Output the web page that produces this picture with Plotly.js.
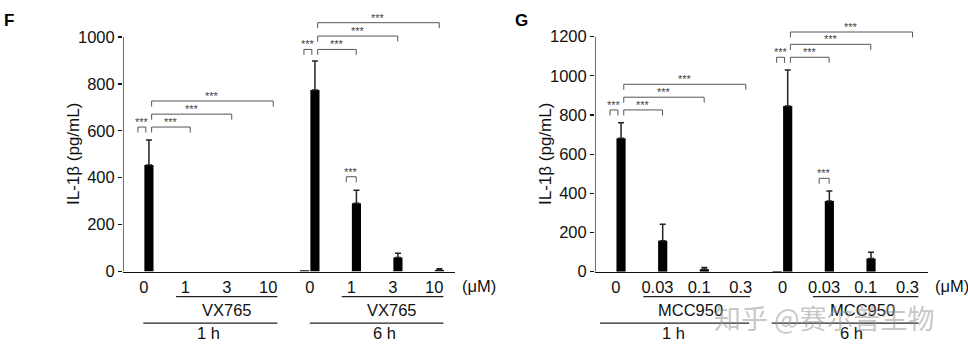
<!DOCTYPE html>
<html>
<head>
<meta charset="utf-8">
<script src="https://cdn.plot.ly/plotly-3.0.1.min.js"></script>
<style>html,body{margin:0;padding:0;background:#fff;}#chart{width:968px;height:356px;}</style>
</head>
<body>
<div id="chart"></div>
<script>
// ---------- DATA ----------
// Panel F (VX765)
const catsF = ['0', '1', '3', '10', '0', '1', '3', '10'];
const ctrlF = [0, 0, 0, 0, 5, 0, 0, 0];          // unstimulated
const lpsF  = [454, 0, 0, 0, 774, 291, 60, 6];   // stimulated
const errF  = [107, 0, 0, 0, 124, 56, 18, 6];
// Panel G (MCC950)
const catsG = ['0', '0.03', '0.1', '0.3', '0', '0.03', '0.1', '0.3'];
const ctrlG = [0, 0, 0, 0, 4, 0, 0, 0];
const lpsG  = [681, 158, 12, 0, 846, 361, 68, 0];
const errG  = [80, 84, 10, 0, 184, 51, 31, 0];
// significance brackets: [fromCategory, toCategory, level]; from==to => ctrl vs treated
const sigF = [[0, 0, 616], [0, 1, 616], [0, 2, 671], [0, 3, 727],
              [4, 4, 947], [4, 5, 947], [4, 6, 1004], [4, 7, 1061], [5, 5, 404]];
const sigG = [[0, 0, 826], [0, 1, 826], [0, 2, 891], [0, 3, 957],
              [4, 4, 1095], [4, 5, 1095], [4, 6, 1161], [4, 7, 1224], [5, 5, 477]];
const yTicksF = [0, 200, 400, 600, 800, 1000];
const yTicksG = [0, 200, 400, 600, 800, 1000, 1200];
const drugF = 'VX765', drugG = 'MCC950';
const timeLabels = ['1 h', '6 h'];
const yTitle = 'IL-1β (pg/mL)';
const unitLabel = '(μM)';

// ---------- LAYOUT HELPERS ----------
const W = 968, H = 356;
const FONT = 'Liberation Sans, Arial, Helvetica, sans-serif';
const pY = y => 1 - y / H;

const traces = [];
const shapes = [];
const annotations = [];
const layout = {
  width: W, height: H, margin: {l: 0, r: 0, t: 0, b: 0},
  paper_bgcolor: '#fff', plot_bgcolor: '#fff', showlegend: false,
  barmode: 'group', bargap: 0.5, bargroupgap: 0.12,
  font: {family: FONT, color: '#111'},
  shapes: shapes, annotations: annotations
};

function panel(p) {
  const xn = p.idx === 1 ? '' : '2';
  const xo = p.idx === 1 ? '3' : '4';
  const xa = 'x' + xn, ya = 'y' + xn;
  const pxPerUnit = (p.zeroPx - p.topTickPx) / p.topTick;
  const topPx = p.zeroPx - p.rangeMax * pxPerUnit;
  const n = p.cats.length;
  const idx = p.cats.map((c, i) => i);
  const bounds = [];
  for (let i = 0; i <= n; i++) bounds.push(i - 0.5);

  layout['xaxis' + xn] = {
    domain: [p.xL / W, p.xR / W], range: [-0.5, n - 0.5], anchor: ya,
    tickmode: 'array', tickvals: idx, ticktext: p.cats, ticks: '',
    showline: true, linecolor: '#111', linewidth: 1.2, showgrid: false, zeroline: false,
    tickfont: {family: FONT, size: 16.5, color: '#111'}, fixedrange: true
  };
  layout['xaxis' + xo] = {
    overlaying: xa, anchor: ya, range: [-0.5, n - 0.5],
    tickmode: 'array', tickvals: bounds, ticks: 'outside', ticklen: 4, tickwidth: 1.2,
    tickcolor: '#111', showticklabels: false, showline: false, showgrid: false, zeroline: false
  };
  layout['yaxis' + xn] = {
    domain: [pY(p.zeroPx), pY(topPx)], range: [0, p.rangeMax], anchor: xa,
    tickmode: 'array', tickvals: p.yTicks, ticks: 'outside', ticklen: 4, tickwidth: 1.2,
    tickcolor: '#111', showline: false, showgrid: false, zeroline: false,
    tickfont: {family: FONT, size: 16.5, color: '#111'}, fixedrange: true
  };
  // y axis line only up to the last tick
  shapes.push({type: 'line', xref: xa, yref: ya, x0: -0.5, x1: -0.5, y0: 0, y1: p.topTick,
               line: {color: '#111', width: 1.2}});

  // a zero mean draws no bar and no whisker
  const nz = arr => arr.map(v => (v > 0 ? v : null));
  traces.push({type: 'bar', x: idx, y: nz(p.ctrl), xaxis: xa, yaxis: ya,
               marker: {color: '#000', line: {width: 0}}, hoverinfo: 'skip'});
  traces.push({type: 'bar', x: idx, y: nz(p.lps), xaxis: xa, yaxis: ya,
               marker: {color: '#000', line: {width: 0}}, hoverinfo: 'skip',
               error_y: {type: 'data', symmetric: false, array: p.err,
                         arrayminus: p.err.map(() => 0), color: '#222', thickness: 1.5, width: 3}});

  // significance brackets
  const leg = 5.5 / pxPerUnit;
  p.sig.forEach(s => {
    let x1, x2;
    if (s[0] === s[1]) {
      if (s[0] === 4 || s[0] === 0) { x1 = s[0] - 0.14; x2 = s[0] + 0.05; }
      else { x1 = s[0] - 0.12; x2 = s[0] + 0.12; }
    } else { x1 = s[0] + 0.19; x2 = s[1] + 0.12; }
    const y = s[2];
    shapes.push({type: 'path', xref: xa, yref: ya,
      path: `M ${x1},${y - leg} L ${x1},${y} L ${x2},${y} L ${x2},${y - leg}`,
      line: {color: '#555', width: 1}});
    annotations.push({xref: xa, yref: ya, x: (x1 + x2) / 2, y: y, text: '***', showarrow: false,
      yanchor: 'middle', yshift: 5, font: {family: FONT, size: 11, color: '#444'}});
  });

  // group lines / labels under the axis
  p.groupLines.forEach(g => {
    shapes.push({type: 'line', xref: xa, yref: 'paper', x0: g[0], x1: g[1], y0: g[2], y1: g[2],
                 line: {color: '#222', width: 1.2}});
  });
  p.groupText.forEach(t => {
    annotations.push({xref: xa, yref: 'paper', x: t[0], y: t[1], text: t[2], showarrow: false,
      xanchor: 'center', yanchor: 'middle', font: {family: FONT, size: 16.5, color: '#111'}});
  });
  annotations.push({xref: 'paper', yref: 'paper', x: (p.xR + 5) / W, y: pY(286), text: unitLabel,
    showarrow: false, xanchor: 'left', yanchor: 'middle', font: {family: FONT, size: 16.5, color: '#111'}});
  annotations.push({xref: 'paper', yref: 'paper', x: p.titleX / W, y: pY(154), text: yTitle,
    textangle: -90, showarrow: false, xanchor: 'center', yanchor: 'middle',
    font: {family: FONT, size: 17, color: '#111'}});
  annotations.push({xref: 'paper', yref: 'paper', x: p.letterX / W, y: pY(21), text: '<b>' + p.letter + '</b>',
    showarrow: false, xanchor: 'center', yanchor: 'middle',
    font: {family: FONT, size: 17, color: '#000'}});
}

const yU = pY(296.7), yL = pY(323.2), yDrug = pY(309.5), yTime = pY(333);
panel({idx: 1, cats: catsF, ctrl: ctrlF, lps: lpsF, err: errF, sig: sigF, yTicks: yTicksF,
  xL: 123, xR: 455, zeroPx: 271.5, topTickPx: 37, topTick: 1000, rangeMax: 1090,
  titleX: 73, letterX: 9, letter: 'F',
  groupLines: [[0.78, 3.22, yU], [-0.01, 3.22, yL], [4.77, 7.22, yU], [4.0, 7.22, yL]],
  groupText: [[2.0, yDrug, drugF], [1.55, yTime, timeLabels[0]], [5.98, yDrug, drugF], [5.81, yTime, timeLabels[1]]]});
panel({idx: 2, cats: catsG, ctrl: ctrlG, lps: lpsG, err: errG, sig: sigG, yTicks: yTicksG,
  xL: 595, xR: 928.3, zeroPx: 271.7, topTickPx: 36.7, topTick: 1200, rangeMax: 1290,
  titleX: 545, letterX: 521, letter: 'G',
  groupLines: [[0.66, 3.22, yU], [-0.38, 3.2, yL], [4.73, 7.26, yU], [3.74, 7.26, yL]],
  groupText: [[1.8, yDrug, drugG], [1.38, yTime, timeLabels[0]], [5.93, yDrug, drugG], [5.66, yTime, timeLabels[1]]]});

// watermark (present in the reference image)
annotations.push({xref: 'paper', yref: 'paper', x: 824 / W, y: pY(317), text: '知乎 @赛尔普生物',
  showarrow: false, xanchor: 'center', yanchor: 'middle',
  font: {family: 'Noto Sans CJK SC, sans-serif', size: 27, color: 'rgba(150,150,150,0.55)'}});

Plotly.newPlot('chart', traces, layout, {displayModeBar: false, staticPlot: true});
</script>
</body>
</html>
